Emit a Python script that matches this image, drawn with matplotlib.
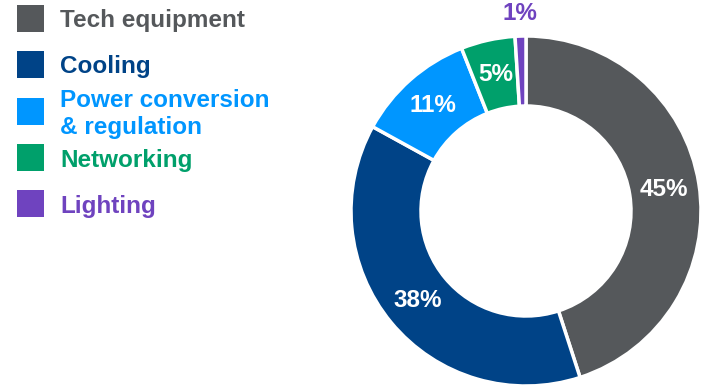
import numpy as np
import matplotlib
matplotlib.use("Agg")
import matplotlib.pyplot as plt
from matplotlib.patches import Rectangle

plt.rcParams['font.family'] = ['Liberation Sans', 'DejaVu Sans']

categories = ["Tech equipment", "Cooling", "Power conversion\n& regulation", "Networking", "Lighting"]
values = [45, 38, 11, 5, 1]
colors = ["#55585b", "#004387", "#0096ff", "#00a06b", "#6f43bf"]

W, H = 701, 388
fig = plt.figure(figsize=(W / 100, H / 100), dpi=100)
ax = fig.add_axes([0, 0, 1, 1])
ax.set_xlim(0, W)
ax.set_ylim(0, H)
ax.set_aspect('equal')
ax.axis('off')

cx, cy, R = 526, H - 211, 175
wedges, _ = ax.pie(values, colors=colors, startangle=90, counterclock=False,
                   center=(cx, cy), radius=R, frame=True,
                   wedgeprops=dict(width=R * 0.4, edgecolor='white', linewidth=2.5))
ax.set_xlim(0, W)
ax.set_ylim(0, H)
ax.axis('off')

cum = 0
for v, c in zip(values, colors):
    mid = 90 - (cum + v / 2) * 3.6
    cum += v
    if v >= 3:
        r = R * 0.8
        col = 'white'
    else:
        r = R * 1.13
        col = c
    ax.text(cx + r * np.cos(np.radians(mid)), cy + r * np.sin(np.radians(mid)),
            f"{v}%", ha='center', va='center', color=col, fontsize=17.5,
            fontweight='bold')

# legend
sq_y = [5, 51, 98, 144, 190]
txt_y = [20, 67, 114, 160, 206]
for cat, c, sy, ty in zip(categories, colors, sq_y, txt_y):
    ax.add_patch(Rectangle((17, H - sy - 27), 27, 27, facecolor=c, edgecolor='none'))
    ax.text(60, H - ty, cat, ha='left', va='center', color=c, fontsize=17.5,
            fontweight='bold', linespacing=1.2)

fig.savefig("out.png", dpi=100)
